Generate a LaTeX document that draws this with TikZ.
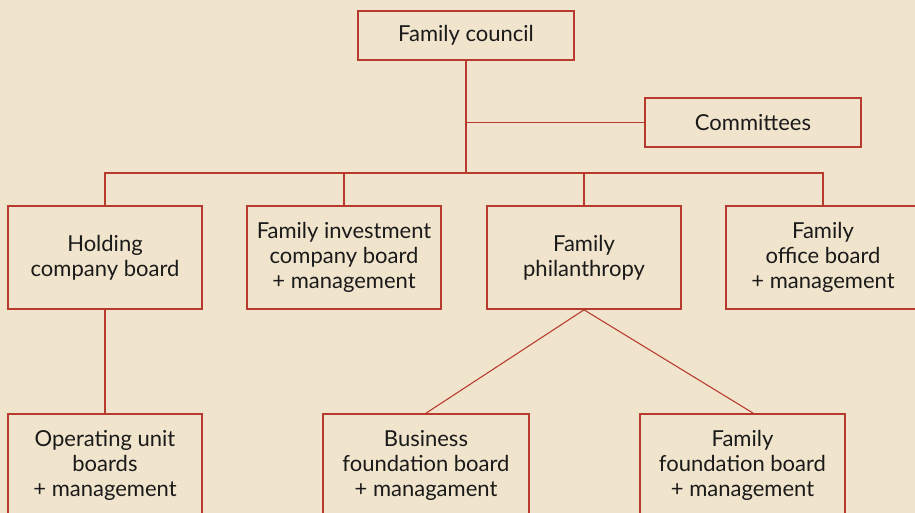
\documentclass[tikz,border=0pt]{standalone}
\usepackage{fontspec}
\setmainfont{Lato}
\usetikzlibrary{positioning, calc}
\definecolor{cream}{HTML}{F0E4CC}
\definecolor{cbrick}{HTML}{B83A2F}
\definecolor{cink}{HTML}{1A1A1A}
\tikzset{
  every picture/.style={font=\fontsize{16.5}{19}\selectfont, text=cink},
  box/.style={draw=cbrick, line width=1.5pt, align=center, inner sep=4pt, minimum width=146pt, minimum height=77pt},
  head/.style={box, minimum width=162pt, minimum height=37pt},
  wide/.style={box, minimum width=154pt},
  link/.style={draw=cbrick, line width=0.8pt},
}

\begin{document}
\begin{tikzpicture}[x=0.75pt, y=-0.75pt]
  \fill[cream] (0,0) rectangle (915,513);
  \useasboundingbox (0,0) rectangle (915,513);
  % council and committees
  \node[head] (fc) at (466,35.5) {Family council};
  \node[head] (com) at (753,122.5) {Committees};
  % boards
  \node[box] (hold) at (105,257.5) {Holding\\company board};
  \node[box] (inv) at (344,257.5) {Family investment\\company board\\+ management};
  \node[box] (phil) at (584,257.5) {Family\\philanthropy};
  \node[box] (office) at (823,257.5) {Family\\office board\\+ management};
  % second level
  \node[box] (op) at (105,465.5) {Operating unit\\boards\\+ management};
  \node[wide] (bf) at (426,465.5) {Business\\foundation board\\+ managament};
  \node[wide] (ff) at (742.5,465.5) {Family\\foundation board\\+ management};
  % connectors
  \coordinate (bus) at (466,173);
  \draw[link] (fc) -- (bus);
  \draw[link] (fc |- com) -- (com);
  \draw[link] (hold.north) -- (hold.north |- bus) -- (office.north |- bus) -- (office.north);
  \draw[link] (inv.north |- bus) -- (inv.north);
  \draw[link] (phil.north |- bus) -- (phil.north);
  \draw[link] (hold) -- (op);
  \draw[link] (bf.north) -- (phil.south) -- ([xshift=8pt]ff.north);
\end{tikzpicture}
\end{document}
